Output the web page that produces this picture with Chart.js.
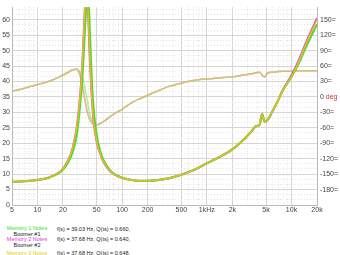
<!DOCTYPE html>
<html>
<head>
<meta charset="utf-8">
<script src="https://cdn.jsdelivr.net/npm/chart.js@4/dist/chart.umd.min.js"></script>
<style>
  body { margin: 0; background: #fff; width: 340px; height: 255px; overflow: hidden; position: relative; font-family: "Liberation Sans", Arial, sans-serif; }
  #wrap { position: absolute; left: 0; top: 0; width: 340px; height: 218px; }
  .t { position: absolute; font-size: 5.5px; line-height: 6px; white-space: nowrap; color: #222; }
  .c { width: 46px; text-align: center; left: 4px; }
</style>
</head>
<body>
<div id="wrap"><canvas id="chart" width="340" height="218"></canvas></div>

<div class="t c" style="top:225px; color:#33dd33">Memory 1 Notes</div>
<div class="t c" style="top:231px">Boomer #1</div>
<div class="t c" style="top:236px; color:#dd33dd">Memory 2 Notes</div>
<div class="t c" style="top:242px">Boomer #2</div>
<div class="t c" style="top:250px; color:#e0d000">Memory 3 Notes</div>
<div class="t" style="top:226px; left:57px">f(s) = 39.03 Hz, Q(ts) = 0.660,</div>
<div class="t" style="top:236px; left:57px">f(s) = 37.68 Hz, Q(ts) = 0.640,</div>
<div class="t" style="top:250px; left:57px">f(s) = 37.68 Hz, Q(ts) = 0.648,</div>

<script>
// frequencies in Hz
const freqs = [5, 7, 10, 14, 18, 20, 23, 26, 29, 32, 34, 36, 37.5, 39, 40.5, 42, 44, 46, 50, 55, 60, 70, 80, 100, 130, 170, 250, 350, 500, 700, 1000, 1400, 2000, 2800, 3400, 3800, 4200, 4500, 4800, 5200, 6000, 6700, 8000, 10000, 12000, 15000, 20000]

// impedance magnitude, ohms
const imp1 = [7.5, 7.7, 8.1, 9.0, 10.4, 11.5, 13.8, 17.2, 22.5, 33, 42, 55, 64, 70, 64, 52, 39, 31, 22.5, 17.5, 14.6, 11.6, 10.1, 8.8, 8.1, 7.8, 8.0, 8.6, 9.8, 11.3, 13.5, 15.5, 18, 21.5, 24, 25.5, 26, 29.5, 27, 27.5, 30.5, 33, 37.5, 41.5, 45.5, 51.5, 58.5]
const imp2 = [7.5, 7.7, 8.1, 9.0, 10.6, 11.8, 14.5, 18.5, 25, 36, 47, 62, 70, 66, 55, 44, 34, 27, 20.5, 16.5, 14, 11.3, 10, 8.8, 8.1, 7.8, 8.0, 8.6, 9.8, 11.3, 13.5, 15.5, 18, 21.5, 24, 25.5, 26, 29.5, 27, 27.5, 30.5, 33, 37.5, 42, 46.5, 53, 60.5]
const imp3 = [7.5, 7.7, 8.1, 9.0, 10.6, 11.8, 14.5, 18.5, 25, 36, 47, 62, 70, 66, 55, 44, 34, 27, 20.5, 16.5, 14, 11.3, 10, 8.8, 8.1, 7.8, 8.0, 8.6, 9.8, 11.3, 13.5, 15.5, 18, 21.5, 24, 25.5, 26, 29.5, 27, 27.5, 30.5, 33, 37.5, 41.5, 46, 52.5, 60]

// impedance phase, degrees
const ph1 = [11, 17, 24, 31, 38, 42, 47, 52, 54.5, 48, 38, 20, 5, -10, -25, -36, -45, -50, -54, -52, -48, -40, -33, -24, -11, -2, 10, 20, 27, 32, 35, 37, 39, 43, 45, 47, 48, 42, 39, 46, 48, 49, 50, 50, 51, 51, 51]
const ph2 = [11, 17, 24, 31, 39, 43, 48, 53, 54, 40, 22, -3, -18, -31, -40, -46, -51, -53, -54, -52, -48, -40, -33, -24, -11, -2, 10, 20, 27, 32, 35, 37, 39, 43, 45, 47, 48, 42, 39, 46, 48, 49, 50, 50, 51, 51, 51]
const ph3 = [11, 17, 24, 31, 39, 43, 48, 53, 54, 40, 22, -3, -18, -31, -40, -46, -51, -53, -54, -52, -48, -40, -33, -24, -11, -2, 10, 20, 27, 32, 35, 37, 39, 43, 45, 47, 48, 42, 39, 46, 48, 49, 50, 50, 51, 51, 51]

// axis ticks
const freqTicks = [5, 6, 7, 8, 9, 10, 20, 30, 40, 50, 60, 70, 80, 90, 100, 200, 300, 400, 500, 600, 700, 800, 900, 1000, 2000, 3000, 4000, 5000, 6000, 7000, 8000, 9000, 10000, 20000]
const freqLabels = {5: '5', 10: '10', 20: '20', 50: '50', 100: '100', 200: '200', 500: '500', 1000: '1kHz', 2000: '2k', 5000: '5k', 10000: '10k', 20000: '20k'}
const ohmTicks = [0, 5, 10, 15, 20, 25, 30, 35, 40, 45, 50, 55, 60]
const degTicks = [-180, -150, -120, -90, -60, -30, 0, 30, 60, 90, 120, 150]

const pts = arr => freqs.map((f, i) => ({x: f, y: arr[i]}))

// minor grid every third of a 5 ohm step
const ohmGrid = []
for (let i = 0; i <= 38; i++) ohmGrid.push(i * 5 / 3)

const isMajorOhm = v => Math.abs(v / 5 - Math.round(v / 5)) < 0.01

const degLabel = {
    id: 'degLabel',
    afterDraw(chart) {
        const s = chart.scales.y2
        const ctx = chart.ctx
        ctx.save()
        ctx.font = '7px "Liberation Sans", Arial, sans-serif'
        ctx.fillStyle = '#e03030'
        ctx.textBaseline = 'middle'
        const x = s.left + 3 + ctx.measureText('0 ').width
        ctx.fillText('deg', x, s.getPixelForValue(0))
        ctx.restore()
    }
}

// order: lower numbers are drawn on top
function line(data, color, axis, width, order) {
    return {
        data: pts(data),
        borderColor: color,
        borderWidth: width,
        pointRadius: 0,
        cubicInterpolationMode: 'monotone',
        yAxisID: axis,
        order: order,
        fill: false
    }
}

new Chart(document.getElementById('chart'), {
    type: 'line',
    data: {
        datasets: [
            line(imp3, 'rgba(230, 190, 40, 0.95)', 'y', 1.5, 1),
            line(imp1, '#55d82e', 'y', 2.2, 2),
            line(imp2, '#d94fd9', 'y', 2, 3),
            line(ph3, 'rgba(226, 186, 120, 0.9)', 'y2', 1.5, 4),
            line(ph1, 'rgba(120, 210, 80, 0.5)', 'y2', 1.5, 5),
            line(ph2, 'rgba(217, 120, 217, 0.4)', 'y2', 1.5, 6)
        ]
    },
    options: {
        responsive: false,
        animation: false,
        events: [],
        layout: {padding: 0},
        plugins: {legend: {display: false}, tooltip: {enabled: false}},
        scales: {
            x: {
                type: 'logarithmic',
                min: 5,
                max: 20000,
                afterBuildTicks: s => { s.ticks = freqTicks.map(v => ({value: v})) },
                afterFit: s => { s.height = 13 },
                ticks: {
                    autoSkip: false,
                    maxRotation: 0,
                    padding: 1,
                    color: '#444',
                    font: {size: 7, family: '"Liberation Sans", Arial, sans-serif'},
                    callback: v => freqLabels[v] || ''
                },
                grid: {
                    drawTicks: false,
                    color: c => (c.tick && freqLabels[c.tick.value]) ? '#d6d6d6' : '#e4e4e4'
                },
                border: {
                    color: '#bbb',
                    dash: c => (c.tick && !freqLabels[c.tick.value]) ? [1, 2] : []
                }
            },
            y: {
                position: 'left',
                min: 0,
                max: 64.06,
                afterBuildTicks: s => { s.ticks = ohmGrid.map(v => ({value: v})) },
                afterFit: s => { s.width = 12 },
                ticks: {
                    autoSkip: false,
                    padding: 2,
                    color: '#444',
                    font: {size: 7, family: '"Liberation Sans", Arial, sans-serif'},
                    callback: v => isMajorOhm(v) && ohmTicks.includes(Math.round(v)) ? String(Math.round(v)) : ''
                },
                grid: {
                    drawTicks: false,
                    color: c => (c.tick && isMajorOhm(c.tick.value)) ? '#d6d6d6' : '#e4e4e4'
                },
                border: {
                    color: '#bbb',
                    dash: c => (c.tick && !isMajorOhm(c.tick.value)) ? [1, 2] : []
                }
            },
            y2: {
                position: 'right',
                min: -210,
                max: 174.4,
                afterBuildTicks: s => { s.ticks = degTicks.map(v => ({value: v})) },
                afterFit: s => { s.width = 23 },
                ticks: {
                    autoSkip: false,
                    padding: 3,
                    color: '#444',
                    font: {size: 7, family: '"Liberation Sans", Arial, sans-serif'},
                    callback: v => v === 0 ? '0' : v + '='
                },
                grid: {drawOnChartArea: false, drawTicks: false},
                border: {color: '#bbb'}
            }
        }
    },
    plugins: [degLabel]
})
</script>
</body>
</html>
